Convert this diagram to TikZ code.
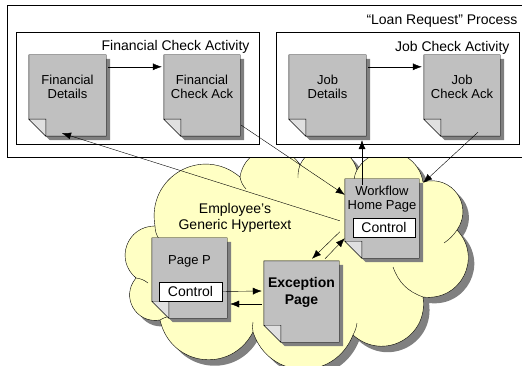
\documentclass[tikz,border=0pt]{standalone}
\usepackage{fontspec}
\setmainfont{Liberation Sans}
\usetikzlibrary{arrows.meta}

\definecolor{pagegray}{RGB}{192,192,192}
\definecolor{shadegray}{RGB}{128,128,128}
\definecolor{foldgray}{RGB}{224,224,224}
\definecolor{cloudyellow}{RGB}{255,255,196}

\pgfdeclarelayer{back}
\pgfdeclarelayer{background}
\pgfsetlayers{back,background,main}

\tikzset{
  page/.style={inner sep=0pt, align=center, text height=10pt,
    font=\fontsize{13}{14.5}\selectfont},
  ctrlbox/.style={draw, fill=white, inner sep=0pt,
    font=\fontsize{14}{16}\selectfont},
  actbox/.style={draw, fill=white, inner sep=0pt},
  caption/.style={anchor=base east, font=\fontsize{14}{16}\selectfont},
  lobe/.style={bend left=70, looseness=1.3},
  flow/.style={-{Latex[length=9pt,width=7pt]}},
}

% folded page with its shadow, drawn behind the node #1
\newcommand{\docpage}[1]{%
  \begin{pgfonlayer}{background}
    \fill[shadegray, transform canvas={xshift=4pt,yshift=-4pt}]
      (#1.north west) -- (#1.north east) -- (#1.south east)
      -- ([xshift=17pt]#1.south west) -- ([yshift=17pt]#1.south west) -- cycle;
    \filldraw[fill=pagegray]
      (#1.north west) -- (#1.north east) -- (#1.south east)
      -- ([xshift=17pt]#1.south west) -- ([yshift=17pt]#1.south west) -- cycle;
    \filldraw[fill=foldgray]
      ([yshift=17pt]#1.south west) -- ([shift={(17pt,17pt)}]#1.south west)
      -- ([xshift=17pt]#1.south west) -- cycle;
  \end{pgfonlayer}}

% outline of the hypertext cloud
\newcommand{\cloudpath}{(155,226) to[lobe] (240,177) to[lobe] (300,165)
  to[lobe] (357,170) to[lobe] (423,182) to[lobe] (457,230) to[lobe] (423,297)
  to[lobe] (353,335) to[lobe] (253,332) to[lobe] (160,320) to[lobe] (136,278)
  to[lobe] (155,226) -- cycle}

\begin{document}
\begin{tikzpicture}[x=1pt, y=-1pt, line width=0.9pt]
\useasboundingbox (0,0) rectangle (522,366);

% hypertext cloud and process boxes
\begin{pgfonlayer}{back}
  \fill[shadegray, shift={(6,6)}] \cloudpath;
  \filldraw[fill=cloudyellow] \cloudpath;
  % creases where the puffs meet
  \draw (155,226) to[bend right=15] (159,239);
  \draw (136,278) to[bend left=15] (148,283);
  \draw (240,177) to[bend right=15] (246,189);
  \draw (300,165) to[bend right=10] (298,178);
  \draw (357,170) to[bend right=10] (354,180);
  \draw (457,230) to[bend left=10] (444,243);
  \draw (423,297) to[bend left=25] (393,267);
  \draw (353,335) to[bend right=10] (357,323);
  \draw (253,332) to[bend left=10] (253,322);
  \draw (160,320) to[bend left=10] (171,316);
  \node[actbox, minimum width=523pt, minimum height=152pt] (process) at (268.5,81) {};
  \node[actbox, minimum width=243pt, minimum height=112pt] (finact) at (137.5,88) {};
  \node[actbox, minimum width=243pt, minimum height=112pt] (jobact) at (397.5,88) {};
\end{pgfonlayer}

\node[caption] (proclbl) at (521,25) {“Loan Request” Process};
\node[caption] (finlbl) at (253,51) {Financial Check Activity};
\node[caption] (joblbl) at (513,52) {Job Check Activity};
\node[anchor=base, align=center, font=\fontsize{14}{16}\selectfont] (hyptxt)
  at (235,229.5) {Employee’s\\Generic Hypertext};

% pages
\node[page, minimum width=77pt, minimum height=81pt, text depth=3pt] (findet)
  at (67.5,95.5) {Financial\\Details};
\node[page, minimum width=76pt, minimum height=81pt, text depth=3pt] (finack)
  at (202,95.5) {Financial\\Check Ack};
\node[page, minimum width=77pt, minimum height=81pt, text depth=3pt] (jobdet)
  at (327.5,95.5) {Job\\Details};
\node[page, minimum width=76pt, minimum height=81pt, text depth=3pt] (joback)
  at (462,95.5) {Job\\Check Ack};
\node[page, minimum width=74pt, minimum height=79pt, text depth=27pt] (wfhome)
  at (382,218.5) {Workflow\\Home Page};
\node[page, minimum width=75pt, minimum height=80pt, text depth=36pt] (pagep)
  at (189.5,278) {Page P};
\node[page, minimum width=75pt, minimum height=81pt, text depth=5pt,
  font=\fontsize{14}{17}\selectfont\bfseries] (excpage)
  at (301.5,301.5) {Exception\\Page};
\docpage{findet}
\docpage{finack}
\docpage{jobdet}
\docpage{joback}
\docpage{wfhome}
\docpage{pagep}
\docpage{excpage}

\node[ctrlbox, minimum width=62pt, minimum height=19pt] (wfctl) at (384,227.5) {Control};
\node[ctrlbox, minimum width=63pt, minimum height=19pt] (pctl) at (190.5,291.5) {Control};

% links
\draw[flow] ([shift={(2pt,-12pt)}]findet.north east) -- ([shift={(-2pt,-12pt)}]finack.north west);
\draw[flow] ([shift={(2pt,-12pt)}]jobdet.north east) -- ([shift={(-2pt,-12pt)}]joback.north west);
\draw[flow] ([shift={(1pt,11pt)}]finack.south east) -- ([yshift=-16pt]wfhome.north west);
\draw[flow] ([shift={(16pt,4pt)}]joback.south) -- ([shift={(4pt,-4pt)}]wfhome.north east);
\draw[flow] ([shift={(-20pt,-6pt)}]wfhome.north) -- ([shift={(34.5pt,-4pt)}]jobdet.south);
\draw[flow] ([shift={(-5pt,-42pt)}]wfhome.north west) -- ([shift={(-5.5pt,3pt)}]findet.south);
\draw[flow] ([shift={(-5pt,-53pt)}]wfhome.north west) -- ([shift={(10.5pt,2pt)}]excpage.north);
\draw[flow] ([shift={(23.5pt,2pt)}]excpage.north) -- ([yshift=20pt]wfhome.south west);
\draw[flow] (pctl.east) -- ([shift={(-2pt,10.5pt)}]excpage.west);
\draw[flow] ([shift={(-2pt,-2.5pt)}]excpage.west) -- ([shift={(3pt,-26pt)}]pagep.east);
\end{tikzpicture}
\end{document}
